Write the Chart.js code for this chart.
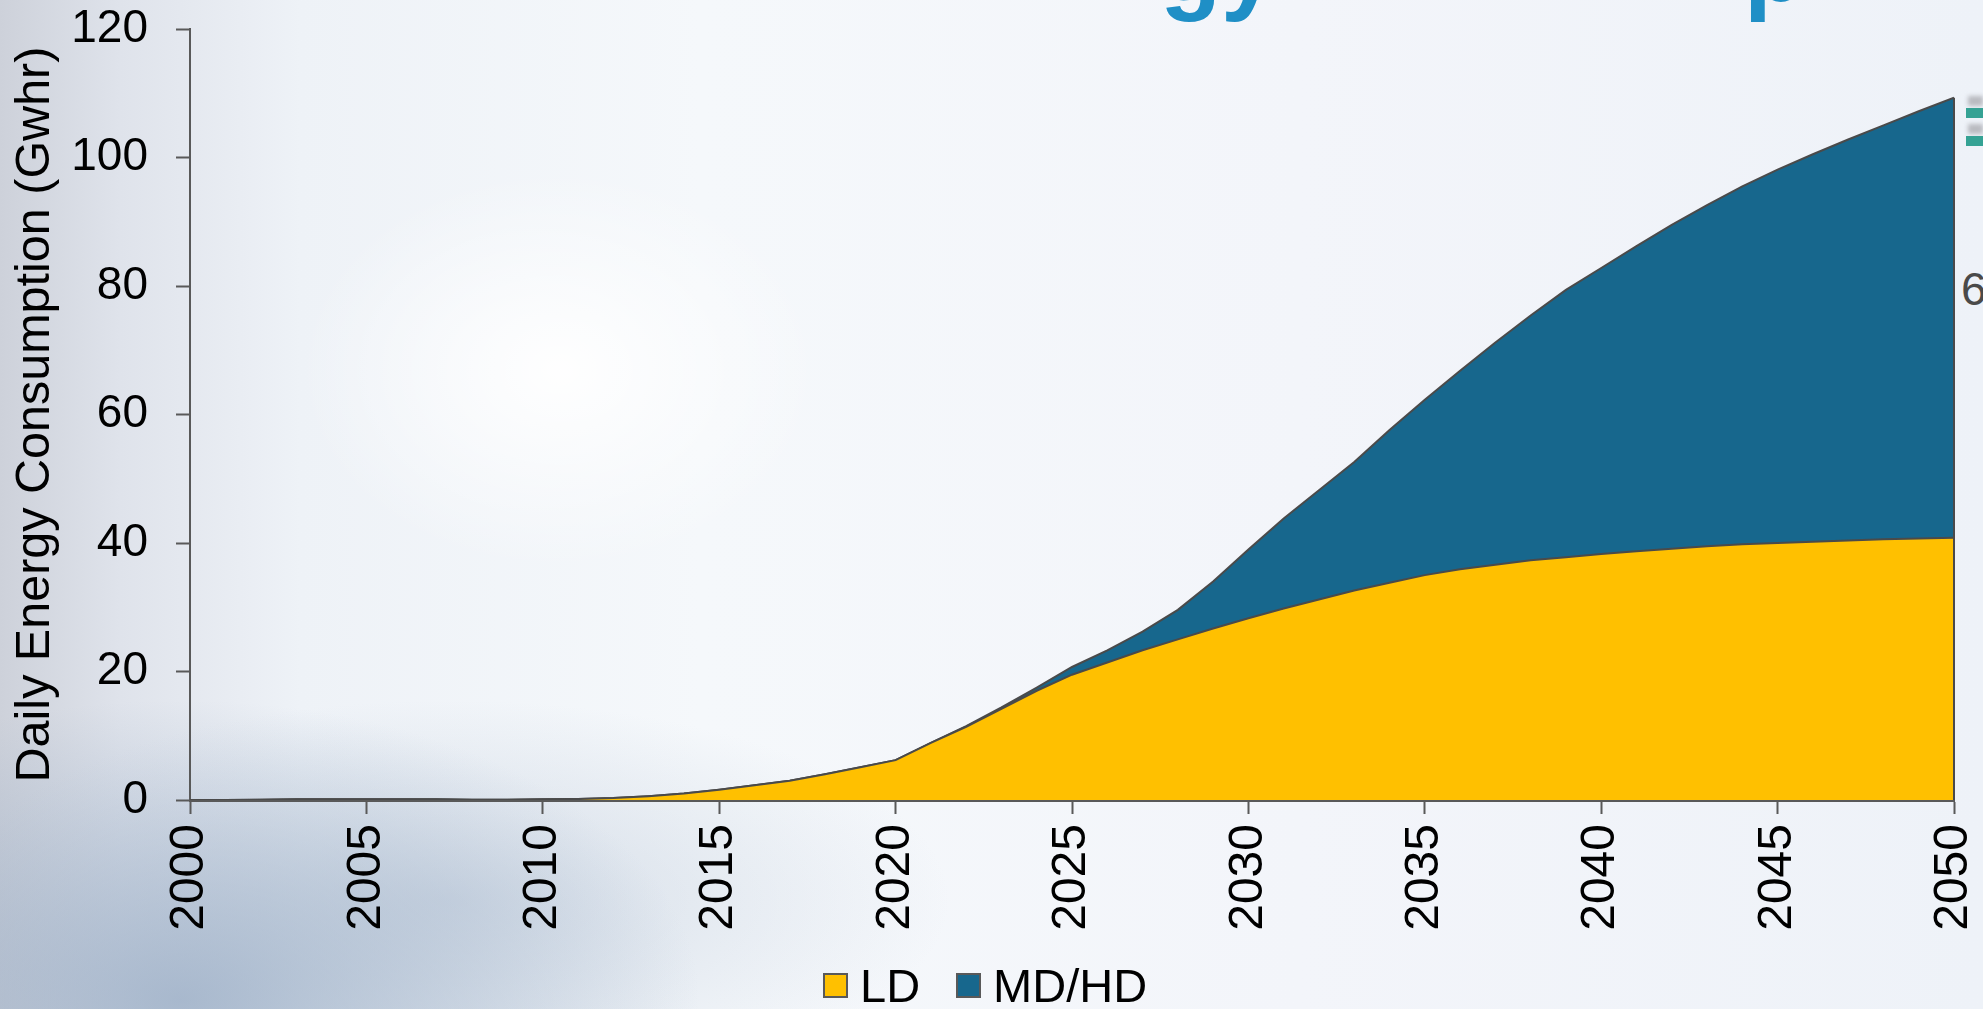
<!DOCTYPE html>
<html>
<head>
<meta charset="utf-8">
<script src="https://cdn.jsdelivr.net/npm/chart.js@4.4.0/dist/chart.umd.min.js"></script>
<style>
    html, body {
        margin: 0;
        padding: 0;
        width: 1983px;
        height: 1009px;
        overflow: hidden;
    }
    body {
        position: relative;
        background:
            radial-gradient(ellipse 260px 200px at 560px 370px, rgba(255,255,255,0.95), rgba(255,255,255,0) 100%),
            radial-gradient(ellipse 520px 300px at 180px 1000px, rgba(150,170,195,0.75), rgba(150,170,195,0) 100%),
            radial-gradient(ellipse 500px 200px at 450px 900px, rgba(185,198,215,0.55), rgba(185,198,215,0) 100%),
            linear-gradient(to right, #cdd1da 0px, #dfe3eb 120px, #eef2f7 300px, #f5f8fb 700px, #f3f5fa 1300px, #eef2f8 1983px);
        font-family: 'Liberation Sans', Arial, sans-serif;
    }
    #wrap {
        position: absolute;
        left: 0;
        top: 0;
        width: 1983px;
        height: 1009px;
    }
    .title-frag {
        position: absolute;
        top: -84px;
        font-weight: bold;
        font-size: 100px;
        line-height: 100px;
        color: #1f8fc6;
        white-space: nowrap;
    }
    .side-six {
        position: absolute;
        left: 1961px;
        top: 262px;
        font-size: 46px;
        color: #4a4a4a;
    }
    .teal {
        position: absolute;
        left: 1966px;
        width: 17px;
        height: 10px;
        background: #35a294;
    }
    .teal-shadow {
        position: absolute;
        left: 1968px;
        width: 15px;
        height: 10px;
        background: rgba(150,150,155,0.6);
        filter: blur(2px);
    }
    #legend {
        position: absolute;
        left: 823px;
        top: 962px;
        display: flex;
        align-items: center;
        font-size: 47px;
        line-height: 47px;
        height: 47px;
        color: #000;
        white-space: nowrap;
    }
    .legend-item {
        display: flex;
        align-items: center;
        margin-right: 36px;
    }
    .legend-box {
        width: 21px;
        height: 21px;
        border: 2px solid #595959;
        margin-right: 12px;
    }
</style>
</head>
<body>
<div class="title-frag" style="left:1160px;">gy</div>
<div class="title-frag" style="left:1744px;">p</div>
<div class="teal-shadow" style="top:96px;"></div>
<div class="teal" style="top:108px;"></div>
<div class="teal-shadow" style="top:124px;"></div>
<div class="teal" style="top:136px;"></div>
<div class="side-six">6</div>
<div id="wrap"><canvas id="energyChart" width="1983" height="1009"></canvas></div>
<div id="legend"></div>
<script>
// Colour scheme
const colors = {
    ld: '#ffc000',
    mdhd: '#17678d',
    outline: '#4a4a4a',
    axis: '#595959',
    text: '#000000'
};

// Data
const years = [
    2000, 2001, 2002, 2003, 2004, 2005, 2006, 2007, 2008, 2009,
    2010, 2011, 2012, 2013, 2014, 2015, 2016, 2017, 2018, 2019,
    2020, 2021, 2022, 2023, 2024, 2025, 2026, 2027, 2028, 2029,
    2030, 2031, 2032, 2033, 2034, 2035, 2036, 2037, 2038, 2039,
    2040, 2041, 2042, 2043, 2044, 2045, 2046, 2047, 2048, 2049,
    2050
];

// Light duty, Gwhr per day
const ldValues = [
    0, 0, 0.05, 0.1, 0.1, 0.1, 0.1, 0.1, 0.05, 0.05,
    0.1, 0.15, 0.3, 0.6, 1.0, 1.6, 2.3, 3.0, 4.0, 5.1,
    6.2, 8.9, 11.4, 14.2, 17.0, 19.5, 21.4, 23.3, 25.0, 26.7,
    28.3, 29.8, 31.2, 32.6, 33.8, 35.0, 35.9, 36.6, 37.3, 37.8,
    38.3, 38.7, 39.1, 39.5, 39.8, 40.0, 40.2, 40.4, 40.6, 40.7,
    40.8
];

// Medium / heavy duty, Gwhr per day (stacked on top of LD)
const mdhdValues = [
    0, 0, 0, 0, 0, 0, 0, 0, 0, 0,
    0, 0, 0, 0, 0, 0, 0, 0, 0, 0,
    0, 0, 0.1, 0.2, 0.5, 1.2, 1.9, 2.9, 4.6, 7.3,
    10.7, 14.0, 17.0, 20.0, 23.8, 27.3, 30.9, 34.6, 38.1, 41.6,
    44.5, 47.5, 50.4, 53.1, 55.7, 58.1, 60.3, 62.4, 64.4, 66.5,
    68.5
];

const seriesLabels = ['LD', 'MD/HD'];
const yTitle = 'Daily Energy Consumption (Gwhr)';

const fontFamily = "'Liberation Sans', Arial, sans-serif";
Chart.defaults.font.family = fontFamily;
Chart.defaults.color = colors.text;

function toPoints(values) {
    return years.map((yr, i) => ({ x: yr, y: values[i] }));
}

// Excel-style area outline: close the stack with a vertical edge at the last year
const rightEdgePlugin = {
    id: 'rightEdge',
    afterDatasetsDraw(chart) {
        const metas = chart.data.datasets.map((d, i) => chart.getDatasetMeta(i));
        const top = metas[metas.length - 1].data;
        const last = top[top.length - 1];
        if (!last) return;
        const ctx = chart.ctx;
        ctx.save();
        ctx.strokeStyle = colors.outline;
        ctx.lineWidth = 2;
        ctx.beginPath();
        ctx.moveTo(last.x, last.y);
        ctx.lineTo(last.x, chart.scales.y.getPixelForValue(0));
        ctx.stroke();
        ctx.restore();
    }
};

const ctx = document.getElementById('energyChart').getContext('2d');
const chart = new Chart(ctx, {
    type: 'line',
    data: {
        datasets: [{
            label: seriesLabels[0],
            data: toPoints(ldValues),
            backgroundColor: colors.ld,
            borderColor: colors.outline,
            borderWidth: 2,
            fill: 'origin',
            pointRadius: 0,
            tension: 0
        }, {
            label: seriesLabels[1],
            data: toPoints(mdhdValues),
            backgroundColor: colors.mdhd,
            borderColor: colors.outline,
            borderWidth: 2,
            fill: '-1',
            pointRadius: 0,
            tension: 0
        }]
    },
    options: {
        responsive: false,
        animation: false,
        layout: {
            autoPadding: false,
            padding: { top: 29, right: 29, left: 0, bottom: 0 }
        },
        scales: {
            x: {
                type: 'linear',
                min: 2000,
                max: 2050,
                border: { display: true, color: colors.axis, width: 3 },
                grid: {
                    display: true,
                    drawOnChartArea: false,
                    drawTicks: true,
                    tickLength: 14,
                    tickWidth: 2,
                    tickColor: colors.axis
                },
                ticks: {
                    stepSize: 5,
                    autoSkip: false,
                    minRotation: 90,
                    maxRotation: 90,
                    padding: 10,
                    font: { size: 48 },
                    color: colors.text,
                    callback: v => String(v)
                },
                afterFit: scale => {
                    scale.height = 209;
                    scale.paddingLeft = 0;
                    scale.paddingRight = 0;
                }
            },
            y: {
                stacked: true,
                min: 0,
                max: 120,
                border: { display: true, color: colors.axis, width: 2 },
                grid: {
                    display: true,
                    drawOnChartArea: false,
                    drawTicks: true,
                    tickLength: 14,
                    tickWidth: 2,
                    tickColor: colors.axis
                },
                ticks: {
                    stepSize: 20,
                    padding: 28,
                    font: { size: 46 },
                    color: colors.text
                },
                title: {
                    display: true,
                    text: yTitle,
                    font: { size: 48.5 },
                    color: colors.text,
                    padding: { top: 7, bottom: 0 }
                },
                afterFit: scale => {
                    scale.width = 190;
                    scale.paddingTop = 0;
                    scale.paddingBottom = 0;
                }
            }
        },
        plugins: {
            legend: { display: false },
            tooltip: { enabled: false }
        }
    },
    plugins: [rightEdgePlugin]
});

// HTML legend built from the chart's datasets
function buildLegend(chart) {
    const legend = document.getElementById('legend');
    legend.innerHTML = chart.data.datasets.map(ds => `
        <div class="legend-item">
            <span class="legend-box" style="background:${ds.backgroundColor};"></span>
            <span>${ds.label}</span>
        </div>
    `).join('');
}
buildLegend(chart);
</script>
</body>
</html>
